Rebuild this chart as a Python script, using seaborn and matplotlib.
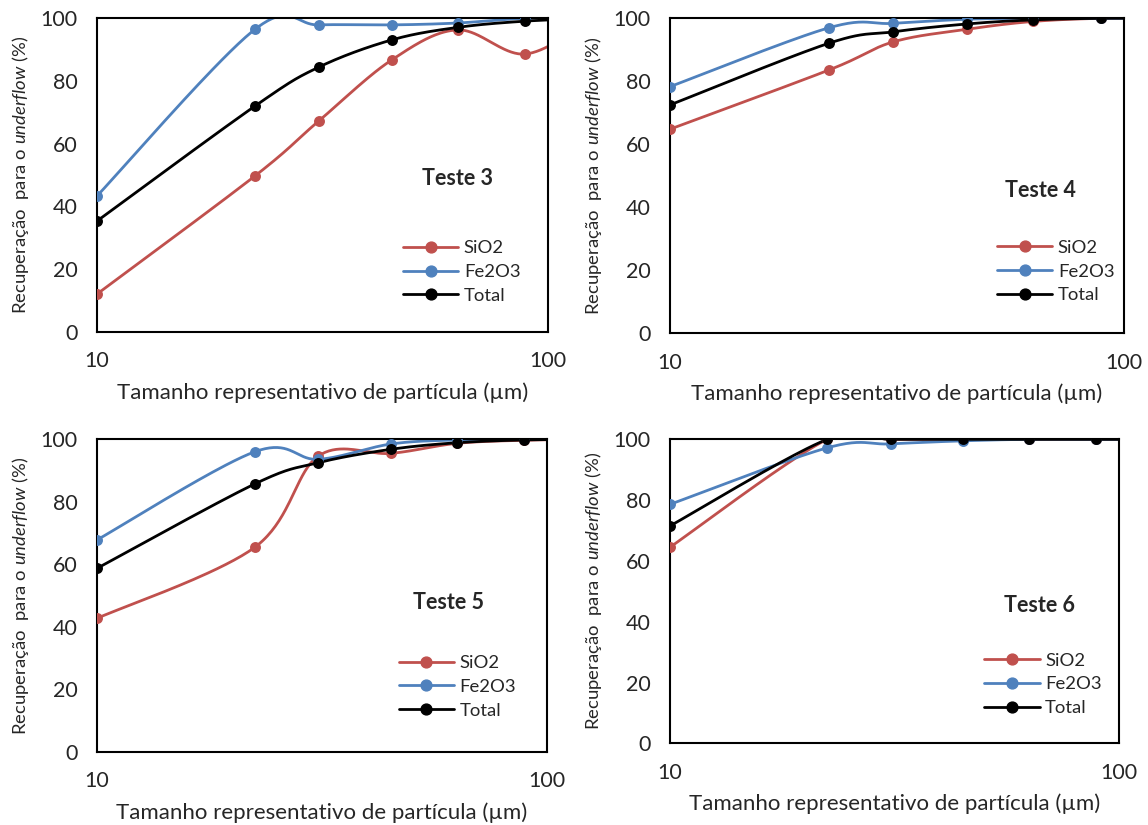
import numpy as np
import pandas as pd
import matplotlib
matplotlib.use("Agg")
import matplotlib.pyplot as plt
import seaborn as sns
from matplotlib.lines import Line2D
from matplotlib.ticker import FixedLocator, NullFormatter, MultipleLocator

# ---------------- data ----------------
sizes = [10, 22.4, 31, 45, 63, 89, 126]   # last point lies beyond the axis (line runs off the edge)
series_names = ["SiO2", "Fe2O3", "Total"]

t3_sio2 = [12.0, 49.7, 67.2, 86.7, 96.3, 88.6, 100]
t3_fe2o3 = [43.3, 96.5, 97.9, 97.9, 98.5, 100, 100]
t3_total = [35.3, 72.0, 84.4, 93.1, 97.1, 99.1, 100]

t4_sio2 = [64.8, 83.6, 92.5, 96.5, 99.0, 100, 100]
t4_fe2o3 = [78.3, 97.0, 98.4, 99.7, 100, 100, 100]
t4_total = [72.5, 92.1, 95.7, 98.2, 99.5, 100, 100]

t5_sio2 = [42.7, 65.4, 94.6, 95.5, 98.7, 99.7, 100]
t5_fe2o3 = [67.8, 96.0, 93.6, 98.5, 99.8, 100, 100]
t5_total = [58.7, 85.7, 92.5, 96.8, 98.9, 99.8, 100]

t6_sio2 = [64.5, 100, 100, 100, 100, 100, 100]
t6_fe2o3 = [78.6, 97.2, 98.5, 99.5, 100, 100, 100]
t6_total = [71.5, 100, 100, 100, 100, 100, 100]

panel_titles = ["Teste 3", "Teste 4", "Teste 5", "Teste 6"]
panel_data = [
    [t3_sio2, t3_fe2o3, t3_total],
    [t4_sio2, t4_fe2o3, t4_total],
    [t5_sio2, t5_fe2o3, t5_total],
    [t6_sio2, t6_fe2o3, t6_total],
]
x_ticklabels = ["10", "100"]
y_ticks = [0, 20, 40, 60, 80, 100]

colors = ["#C0504D", "#4F81BD", "#000000"]

# ---------------- style ----------------
sns.set_style("white")
plt.rcParams["font.family"] = ["Lato", "DejaVu Sans"]
plt.rcParams["mathtext.fontset"] = "custom"
plt.rcParams["mathtext.rm"] = "Lato"
plt.rcParams["mathtext.it"] = "Lato:italic"


def smooth(xs, ys, n=40):
    """Excel-like smoothed line (Bezier through points, in log-x space)."""
    P = np.column_stack([np.log10(xs), np.asarray(ys, float)])
    out = [P[0]]
    t = np.linspace(0, 1, n)[1:, None]
    for i in range(len(P) - 1):
        p0 = P[i - 1] if i > 0 else P[i]
        p1, p2 = P[i], P[i + 1]
        p3 = P[i + 2] if i + 2 < len(P) else P[i + 1]
        c1 = p1 + (p2 - p0) / 6
        c2 = p2 - (p3 - p1) / 6
        seg = (1 - t) ** 3 * p1 + 3 * (1 - t) ** 2 * t * c1 + 3 * (1 - t) * t ** 2 * c2 + t ** 3 * p2
        out.extend(seg)
    out = np.array(out)
    return 10 ** out[:, 0], out[:, 1]


fig = plt.figure(figsize=(11.48, 8.25), dpi=100)
positions = [
    [0.0845, 0.598, 0.3929, 0.3798],
    [0.5836, 0.596, 0.3955, 0.3818],
    [0.0845, 0.0888, 0.3920, 0.3787],
    [0.5836, 0.0990, 0.3911, 0.3685],
]
title_pos = [(0.80, 0.49), (0.815, 0.453), (0.78, 0.477), (0.823, 0.453)]
legend_pos = [(0.678, 0.19), (0.72, 0.196), (0.67, 0.208), (0.70, 0.194)]

for k in range(4):
    ax = fig.add_axes(positions[k])
    for name, vals, c in zip(series_names, panel_data[k], colors):
        sx, sy = smooth(sizes, vals)
        df_line = pd.DataFrame({"x": sx, "y": sy})
        sns.lineplot(data=df_line, x="x", y="y", sort=False, estimator=None,
                     color=c, lw=2.0, ax=ax)
        df_pts = pd.DataFrame({"x": sizes, "y": vals})
        sns.scatterplot(data=df_pts, x="x", y="y", color=c, s=62,
                        linewidth=0, ax=ax, zorder=3)
    ax.set_xscale("log")
    ax.set_xlim(10, 100)
    ax.set_ylim(0, 100)
    ax.xaxis.set_major_locator(FixedLocator([10, 100]))
    ax.set_xticklabels(x_ticklabels)
    ax.xaxis.set_minor_locator(FixedLocator([20, 30, 40, 50, 60, 70, 80, 90]))
    ax.xaxis.set_minor_formatter(NullFormatter())
    ax.set_yticks(y_ticks)
    ax.yaxis.set_minor_locator(MultipleLocator(10))
    ax.tick_params(which="both", direction="in", length=4.5, width=1.0,
                   color="black", labelsize=15.5, top=False, right=False)
    ax.tick_params(axis="x", which="major", pad=14)
    ax.tick_params(axis="y", which="major", pad=14)
    for s in ax.spines.values():
        s.set_visible(True)
        s.set_color("black")
        s.set_linewidth(1.5)
    ax.set_xlabel("Tamanho representativo de partícula (\u00b5m)", fontsize=16, labelpad=8)
    ax.set_ylabel("Recuperação  para o $\\it{underflow}$ (%)", fontsize=13.3, labelpad=7)
    ax.text(title_pos[k][0], title_pos[k][1], panel_titles[k], transform=ax.transAxes,
            ha="center", va="center", fontsize=15.5, fontweight="bold")
    handles = [Line2D([], [], color=c, lw=2.0, marker="o", markersize=7.8) for c in colors]
    ax.legend(handles, series_names, loc="center left", bbox_to_anchor=legend_pos[k],
              frameon=False, fontsize=13.3, handlelength=3.0, handletextpad=0.3,
              labelspacing=0.42, borderpad=0, borderaxespad=0)

fig.savefig("out.png", dpi=100)
